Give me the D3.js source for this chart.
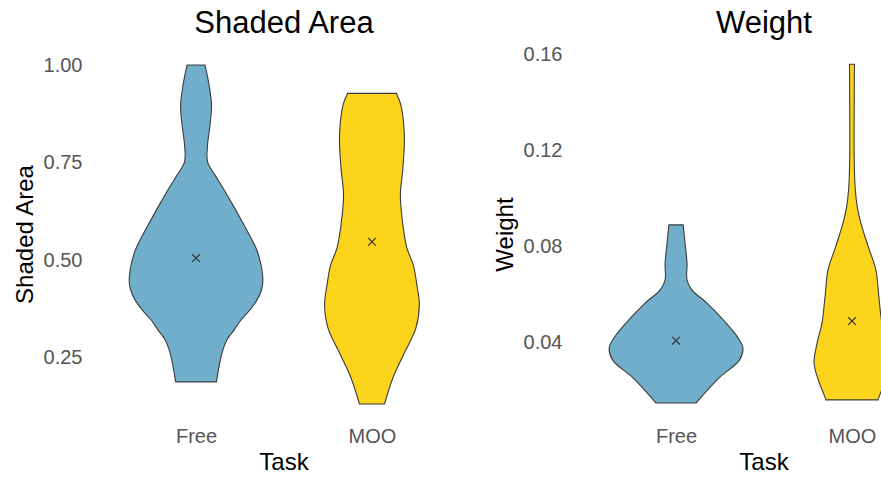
<!DOCTYPE html>
<html lang="en">
<head>
    <meta charset="UTF-8">
    <title>Shaded Area and Weight by Task</title>
    <script src="https://cdnjs.cloudflare.com/ajax/libs/d3/7.8.5/d3.min.js"></script>
    <style>
        body {
            margin: 0;
            background-color: white;
        }

        svg {
            display: block;
        }

        svg text {
            font-family: "Liberation Sans", Arial, Helvetica, sans-serif;
        }

        .tick text {
            fill: #555;
            font-size: 20px;
        }

        .title {
            font-size: 31px;
            fill: #000;
        }

        .axis-title {
            font-size: 24px;
            fill: #000;
        }
    </style>
</head>
<body>
    <svg id="chart" width="881" height="477"></svg>

    <script>
        const tasks = ["Free", "MOO"];
        const colors = ["#70aecc", "#fcd41b"];

        // Shaded Area: density profile (value, relative density)
        const shadedFreeValues  = [1.000, 0.949, 0.897, 0.846, 0.794, 0.751, 0.717, 0.684, 0.640, 0.594, 0.556, 0.517, 0.448, 0.422, 0.396, 0.371, 0.345, 0.319, 0.294, 0.260, 0.224, 0.186];
        const shadedFreeDensity = [0.134, 0.194, 0.231, 0.209, 0.172, 0.172, 0.284, 0.403, 0.552, 0.701, 0.821, 0.925, 1.000, 0.978, 0.910, 0.806, 0.672, 0.567, 0.463, 0.388, 0.343, 0.306];
        const shadedMooValues   = [0.927, 0.897, 0.820, 0.735, 0.666, 0.589, 0.530, 0.486, 0.435, 0.384, 0.324, 0.255, 0.196, 0.129];
        const shadedMooDensity  = [0.366, 0.433, 0.485, 0.463, 0.425, 0.463, 0.522, 0.619, 0.672, 0.709, 0.657, 0.470, 0.313, 0.187];
        const shadedMeans = [0.504, 0.546];
        const shadedTicks = [0.25, 0.50, 0.75, 1.00];

        // Weight
        const weightFreeValues  = [0.0889, 0.0814, 0.0730, 0.0659, 0.0617, 0.0563, 0.0492, 0.0421, 0.0376, 0.0325, 0.0255, 0.0200, 0.0146];
        const weightFreeDensity = [0.107, 0.134, 0.164, 0.164, 0.239, 0.463, 0.709, 0.921, 1.000, 0.948, 0.660, 0.470, 0.299];
        const weightMooValues   = [0.1559, 0.1368, 0.1181, 0.1043, 0.0960, 0.0901, 0.0847, 0.0784, 0.0701, 0.0588, 0.0480, 0.0396, 0.0313, 0.0242, 0.0188, 0.0159];
        const weightMooDensity  = [0.037, 0.033, 0.033, 0.048, 0.082, 0.130, 0.187, 0.261, 0.358, 0.403, 0.448, 0.522, 0.567, 0.503, 0.428, 0.388];
        const weightMeans = [0.0406, 0.0488];
        const weightTicks = [0.04, 0.08, 0.12, 0.16];

        const svg = d3.select("#chart");

        const panelTop = 48;
        const panelBottom = 421;
        const panelWidth = 387;

        function drawPanel(cfg) {
            const g = svg.append("g");

            const x = d3.scalePoint()
                .domain(tasks)
                .range([cfg.left, cfg.left + panelWidth])
                .padding(0.6);

            const y = d3.scaleLinear()
                .domain(cfg.domain)
                .range([panelBottom, panelTop]);

            // half width of a violin, max density -> 0.38 of a category step
            const w = d3.scaleLinear()
                .domain([0, 1])
                .range([0, x.step() * 0.38]);

            cfg.violins.forEach((v, i) => {
                const cx = x(tasks[i]);
                const area = d3.area()
                    .curve(d3.curveCatmullRom)
                    .y(d => y(d[0]))
                    .x0(d => cx - w(d[1]))
                    .x1(d => cx + w(d[1]));

                g.append("path")
                    .datum(d3.zip(v.values, v.density))
                    .attr("d", area)
                    .attr("fill", colors[i])
                    .attr("stroke", "#3b3b3b")
                    .attr("stroke-width", 1.1);
            });

            // mean markers
            g.selectAll(".mean")
                .data(cfg.means)
                .enter()
                .append("path")
                .attr("class", "mean")
                .attr("d", d3.symbol(d3.symbolTimes, 40))
                .attr("transform", (d, i) => `translate(${x(tasks[i])},${y(d)})`)
                .attr("fill", "none")
                .attr("stroke", "#333")
                .attr("stroke-width", 1.2);

            const yAxis = g.append("g")
                .attr("transform", `translate(${cfg.left},0)`)
                .call(d3.axisLeft(y)
                    .tickValues(cfg.ticks)
                    .tickSize(0)
                    .tickPadding(8)
                    .tickFormat(d3.format(".2f")));
            yAxis.select(".domain").remove();

            const xAxis = g.append("g")
                .attr("transform", `translate(0,${panelBottom})`)
                .call(d3.axisBottom(x)
                    .tickSize(0)
                    .tickPadding(8));
            xAxis.select(".domain").remove();

            const cxPanel = cfg.left + panelWidth / 2;

            g.append("text")
                .attr("class", "title")
                .attr("x", cxPanel)
                .attr("y", 33)
                .attr("text-anchor", "middle")
                .text(cfg.title);

            g.append("text")
                .attr("class", "axis-title")
                .attr("x", cxPanel)
                .attr("y", 470)
                .attr("text-anchor", "middle")
                .text("Task");

            g.append("text")
                .attr("class", "axis-title")
                .attr("transform", `translate(${cfg.left - 58},${(panelTop + panelBottom) / 2}) rotate(-90)`)
                .attr("text-anchor", "middle")
                .text(cfg.yLabel);
        }

        drawPanel({
            left: 90.5,
            title: "Shaded Area",
            yLabel: "Shaded Area",
            domain: [0.0855, 1.0436],
            ticks: shadedTicks,
            means: shadedMeans,
            violins: [
                { values: shadedFreeValues, density: shadedFreeDensity },
                { values: shadedMooValues, density: shadedMooDensity }
            ]
        });

        drawPanel({
            left: 570.5,
            title: "Weight",
            yLabel: "Weight",
            domain: [0.0071, 0.1627],
            ticks: weightTicks,
            means: weightMeans,
            violins: [
                { values: weightFreeValues, density: weightFreeDensity },
                { values: weightMooValues, density: weightMooDensity }
            ]
        });
    </script>
</body>
</html>
